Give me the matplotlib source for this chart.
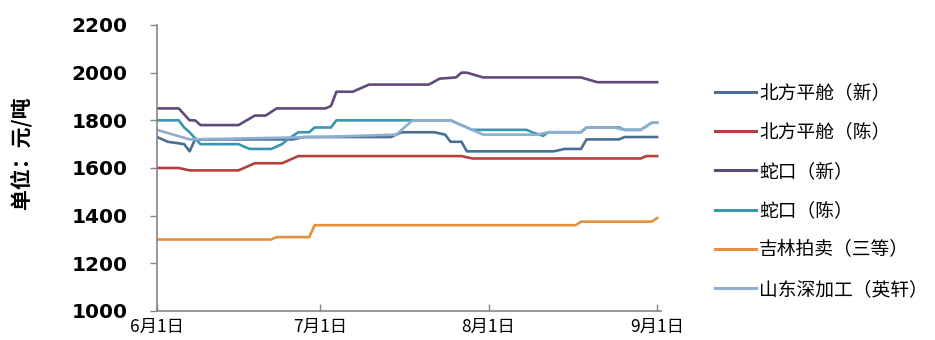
import matplotlib
matplotlib.use("Agg")
import matplotlib.pyplot as plt
import pandas as pd

YEAR = "2013-"

labels = ["北方平舱（新）", "北方平舱（陈）", "蛇口（新）", "蛇口（陈）", "吉林拍卖（三等）", "山东深加工（英轩）"]
colors = ["#4A6F92", "#B2403E", "#604A7B", "#3A95AE", "#E3913F", "#8FADD0"]

bf_new_dates = ["06-01", "06-03", "06-06", "06-07", "06-08", "06-26", "06-28", "07-14", "07-16", "07-22",
                "07-24", "07-25", "07-27", "07-28", "08-13", "08-15", "08-18", "08-19", "08-25", "08-26", "09-01"]
bf_new_vals = [1730, 1710, 1700, 1670, 1720, 1720, 1730, 1730, 1750, 1750,
               1740, 1710, 1710, 1670, 1670, 1680, 1680, 1720, 1720, 1730, 1730]

bf_old_dates = ["06-01", "06-05", "06-07", "06-16", "06-19", "06-24", "06-25", "06-27", "07-27", "07-29",
                "08-29", "08-30", "09-01"]
bf_old_vals = [1600, 1600, 1590, 1590, 1620, 1620, 1630, 1650, 1650, 1640, 1640, 1650, 1650]

sk_new_dates = ["06-01", "06-05", "06-07", "06-08", "06-09", "06-16", "06-19", "06-21", "06-23", "07-02",
                "07-03", "07-04", "07-07", "07-10", "07-21", "07-23", "07-26", "07-27", "07-28", "07-31",
                "08-18", "08-21", "09-01"]
sk_new_vals = [1850, 1850, 1800, 1800, 1780, 1780, 1820, 1820, 1850, 1850,
               1860, 1920, 1920, 1950, 1950, 1975, 1980, 2000, 2000, 1980,
               1980, 1960, 1960]

sk_old_dates = ["06-01", "06-05", "06-06", "06-07", "06-09", "06-16", "06-18", "06-22", "06-24", "06-25",
                "06-27", "06-29", "06-30", "07-03", "07-04", "07-25", "07-27", "07-29", "08-08", "08-09",
                "08-11", "08-12", "08-18", "08-19", "08-25", "08-26", "08-29", "08-31", "09-01"]
sk_old_vals = [1800, 1800, 1770, 1750, 1700, 1700, 1680, 1680, 1700, 1720,
               1750, 1750, 1770, 1770, 1800, 1800, 1780, 1760, 1760, 1750,
               1735, 1750, 1750, 1770, 1770, 1760, 1760, 1790, 1790]

jl_dates = ["06-01", "06-22", "06-23", "06-29", "06-30", "08-17", "08-18", "08-31", "09-01"]
jl_vals = [1300, 1300, 1310, 1310, 1360, 1360, 1375, 1375, 1390]

sd_dates = ["06-01", "06-07", "07-01", "07-15", "07-18", "07-25", "07-27", "07-31", "08-10", "08-12",
            "08-18", "08-19", "08-24", "08-26", "08-29", "08-31", "09-01"]
sd_vals = [1760, 1720, 1730, 1740, 1800, 1800, 1780, 1740, 1740, 1750,
           1750, 1770, 1770, 1760, 1760, 1790, 1790]

tick_dates = ["06-01", "07-01", "08-01", "09-01"]
tick_labels = ["6月1日", "7月1日", "8月1日", "9月1日"]
y_ticks = [1000, 1200, 1400, 1600, 1800, 2000, 2200]

series = [(bf_new_dates, bf_new_vals), (bf_old_dates, bf_old_vals), (sk_new_dates, sk_new_vals),
          (sk_old_dates, sk_old_vals), (jl_dates, jl_vals), (sd_dates, sd_vals)]

def to_dt(lst):
    return pd.to_datetime([YEAR + d for d in lst])

cjk = ["Noto Sans CJK SC", "DejaVu Sans"]
axis_gray = "#868686"

fig = plt.figure(figsize=(9.35, 3.40), dpi=100)
ax = fig.add_axes([157 / 935, 1 - 311 / 340, (661 - 157) / 935, (311 - 25) / 340])

for (d, v), lab, c in zip(series, labels, colors):
    ax.plot(to_dt(d), v, color=c, lw=1.9, label=lab, solid_joinstyle="round")

x0 = pd.Timestamp(YEAR + "06-01")
x1 = pd.Timestamp(YEAR + "09-01") + pd.Timedelta(hours=17)
ax.set_xlim(x0, x1)
ax.set_ylim(1000, 2200)

ax.set_yticks(y_ticks)
ax.set_yticklabels([str(t) for t in y_ticks], fontsize=14.5, fontweight="bold", family="DejaVu Sans")
ax.set_xticks(to_dt(tick_dates))
ax.set_xticklabels(tick_labels, fontsize=12.5, family=cjk)

ax.tick_params(axis="y", direction="out", length=5, width=1, color=axis_gray, pad=16)
ax.tick_params(axis="x", direction="in", length=5, width=1, color=axis_gray, pad=5)

for s in ["top", "right"]:
    ax.spines[s].set_visible(False)
for s in ["left", "bottom"]:
    ax.spines[s].set_color(axis_gray)
    ax.spines[s].set_linewidth(1.2)

fig.text(21 / 935, 1 - 153 / 340, "单位：元/吨", rotation=90, ha="center", va="center",
         fontsize=15, fontweight="bold", family=cjk)

leg = fig.legend(loc="center left", bbox_to_anchor=(715 / 935, 1 - 191 / 340), frameon=False,
                 prop={"family": cjk, "size": 13.5}, handlelength=2.2, handletextpad=0.15,
                 labelspacing=0.98, borderpad=0, borderaxespad=0)
for line in leg.get_lines():
    line.set_linewidth(2.2)

fig.savefig("out.png", dpi=100)
